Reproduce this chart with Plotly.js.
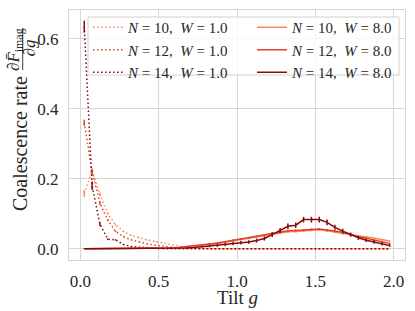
<!DOCTYPE html>
<html>
<head>
<meta charset="utf-8">
<script src="https://cdn.plot.ly/plotly-3.0.1.min.js"></script>
<style>html,body{margin:0;padding:0;background:#fff;}#chart{width:415px;height:311px;}</style>
</head>
<body>
<div id="chart"></div>
<script>
// Tilt values g
const tilt = [0.025,0.075,0.125,0.175,0.225,0.275,0.325,0.375,0.425,0.475,
              0.525,0.575,0.625,0.675,0.725,0.775,0.825,0.875,0.925,0.975,
              1.025,1.075,1.125,1.175,1.225,1.275,1.325,1.375,1.425,1.475,
              1.525,1.575,1.625,1.675,1.725,1.775,1.825,1.875,1.925,1.975];

// W = 1.0 series
const n10w1 = [0.158,0.222,0.155,0.100,0.068,0.049,0.038,0.031,0.025,0.021,
               0.016,0.011,0.006,0.003,0.001,0,0,0,0,0,
               0,0,0,0,0,0,0,0,0,0, 0,0,0,0,0,0,0,0,0,0];
const n12w1 = [0.360,0.220,0.130,0.082,0.049,0.034,0.025,0.019,0.014,0.010,
               0.007,0.004,0.002,0.001,0,0,0,0,0,0,
               0,0,0,0,0,0,0,0,0,0, 0,0,0,0,0,0,0,0,0,0];
const n14w1 = [0.635,0.180,0.070,0.027,0.025,0.012,0.006,0.004,0.002,0.001,
               0,0,0,0,0,0,0,0,0,0,
               0,0,0,0,0,0,0,0,0,0, 0,0,0,0,0,0,0,0,0,0];
const n10w1Err = [0.010,0.008,0.005,0.003,0.002,0.002,0.001,0.001,0.001,0.001,
                  0.001,0,0,0,0,0,0,0,0,0, 0,0,0,0,0,0,0,0,0,0, 0,0,0,0,0,0,0,0,0,0];
const n12w1Err = [0.009,0.008,0.005,0.003,0.002,0.001,0.001,0.001,0.001,0,
                  0,0,0,0,0,0,0,0,0,0, 0,0,0,0,0,0,0,0,0,0, 0,0,0,0,0,0,0,0,0,0];
const n14w1Err = [0.017,0.012,0.005,0.002,0.002,0.001,0.001,0,0,0,
                  0,0,0,0,0,0,0,0,0,0, 0,0,0,0,0,0,0,0,0,0, 0,0,0,0,0,0,0,0,0,0];

// W = 8.0 series
const n10w8 = [0,0,0,0,0,0,0,0,0,0,
               0.001,0.002,0.003,0.005,0.007,0.009,0.012,0.015,0.018,0.022,
               0.025,0.029,0.033,0.037,0.041,0.045,0.048,0.049,0.051,0.053,
               0.054,0.051,0.047,0.043,0.038,0.036,0.034,0.030,0.026,0.022];
const n12w8 = [0,0,0,0,0,0,0,0,0,0,
               0.001,0.002,0.003,0.005,0.007,0.010,0.013,0.016,0.020,0.024,
               0.027,0.031,0.035,0.039,0.044,0.048,0.051,0.052,0.053,0.055,
               0.056,0.053,0.050,0.047,0.041,0.034,0.030,0.025,0.020,0.015];
const n14w8 = [0,0,0,0,0,0,0,0,0,0,
               0,0,0.001,0.002,0.003,0.005,0.007,0.009,0.012,0.015,
               0.017,0.019,0.023,0.029,0.040,0.052,0.064,0.067,0.083,0.083,
               0.083,0.075,0.061,0.050,0.040,0.031,0.024,0.019,0.014,0.009];
const n10w8Err = [0,0,0,0,0,0,0,0,0,0,
                  0.001,0.001,0.001,0.001,0.001,0.001,0.002,0.002,0.002,0.002,
                  0.002,0.002,0.002,0.002,0.002,0.002,0.003,0.003,0.003,0.003,
                  0.003,0.003,0.003,0.003,0.002,0.002,0.002,0.002,0.002,0.002];
const n12w8Err = [0,0,0,0,0,0,0,0,0,0,
                  0.001,0.001,0.001,0.001,0.001,0.001,0.002,0.002,0.002,0.002,
                  0.002,0.002,0.002,0.002,0.002,0.003,0.003,0.003,0.003,0.003,
                  0.003,0.003,0.003,0.003,0.003,0.002,0.002,0.002,0.002,0.002];
const n14w8Err = [0.001,0.001,0.001,0.001,0.001,0.001,0.001,0.001,0.001,0.001,
                  0.001,0.001,0.001,0.001,0.001,0.002,0.003,0.004,0.005,0.005,
                  0.005,0.005,0.006,0.006,0.007,0.007,0.008,0.008,0.008,0.008,
                  0.008,0.008,0.007,0.007,0.006,0.006,0.005,0.005,0.005,0.004];

const legendNames = ['<i>N</i> = 10,  <i>W</i> = 1.0','<i>N</i> = 12,  <i>W</i> = 1.0','<i>N</i> = 14,  <i>W</i> = 1.0',
                     '<i>N</i> = 10,  <i>W</i> = 8.0','<i>N</i> = 12,  <i>W</i> = 8.0','<i>N</i> = 14,  <i>W</i> = 8.0'];
const xTicks = [0,0.5,1.0,1.5,2.0];
const yTicks = [0,0.2,0.4,0.6];

const colors = ['#fb8b5e','#e2402d','#850c0c'];
const serif = 'Liberation Serif, Times New Roman, serif';
const textCol = '#262626';

function tr(y, err, name, color, dotted, leg) {
  return {
    x: tilt, y: y, name: name, type: 'scatter', mode: 'lines',
    line: {color: color, width: 1.5, dash: dotted ? '1.5px,2.5px' : 'solid'},
    error_y: {type: 'data', array: err, visible: true, color: color, thickness: 1.5, width: 0},
    legend: leg
  };
}

const data = [
  tr(n10w1, n10w1Err, legendNames[0], colors[0], true, 'legend'),
  tr(n12w1, n12w1Err, legendNames[1], colors[1], true, 'legend'),
  tr(n14w1, n14w1Err, legendNames[2], colors[2], true, 'legend'),
  tr(n10w8, n10w8Err, legendNames[3], colors[0], false, 'legend2'),
  tr(n12w8, n12w8Err, legendNames[4], colors[1], false, 'legend2'),
  tr(n14w8, n14w8Err, legendNames[5], colors[2], false, 'legend2')
];

function px(x){ return (x-69)/336; }
function py(y){ return (260-y)/250; }

const legFont = {family: serif, size: 15, color: textCol};
const layout = {
  width: 415, height: 311,
  margin: {l: 69, r: 10, t: 10, b: 51, pad: 0},
  paper_bgcolor: '#ffffff', plot_bgcolor: '#ffffff',
  font: {family: serif, color: textCol, size: 17},
  showlegend: true,
  legend: {
    orientation: 'v', x: px(88), y: py(11), xanchor: 'left', yanchor: 'top',
    bgcolor: 'rgba(255,255,255,0.01)', borderwidth: 0,
    font: legFont, tracegroupgap: 0
  },
  legend2: {
    orientation: 'v', x: px(252), y: py(11), xanchor: 'left', yanchor: 'top',
    bgcolor: 'rgba(255,255,255,0.01)', borderwidth: 0,
    font: legFont, tracegroupgap: 0
  },
  xaxis: {
    range: [-0.0725, 2.0725], tickvals: xTicks, tickformat: '.1f',
    showgrid: true, gridcolor: '#d6d6d6', gridwidth: 1,
    showline: true, mirror: true, linecolor: '#d6d6d6', linewidth: 1.2,
    zeroline: false, ticks: '', ticklabelstandoff: 5,
    tickfont: {family: serif, size: 17, color: textCol}
  },
  yaxis: {
    range: [-0.0325, 0.6825], tickvals: yTicks, tickformat: '.1f',
    showgrid: true, gridcolor: '#d6d6d6', gridwidth: 1,
    showline: true, mirror: true, linecolor: '#d6d6d6', linewidth: 1.2,
    zeroline: false, ticks: '', ticklabelstandoff: 6,
    tickfont: {family: serif, size: 17, color: textCol}
  },
  annotations: [
    {text: 'Tilt <i>g</i>', xref: 'paper', yref: 'paper', x: px(237), y: py(297),
     xanchor: 'center', yanchor: 'middle', showarrow: false,
     font: {family: serif, size: 19, color: textCol}},
    {text: 'Coalescence rate', xref: 'paper', yref: 'paper', x: px(20), y: py(144),
     xanchor: 'center', yanchor: 'middle', textangle: -90, showarrow: false,
     font: {family: serif, size: 20, color: textCol}},
    {text: '∂<i>F̄</i><sub>imag</sub>', xref: 'paper', yref: 'paper', x: px(15), y: py(49),
     xanchor: 'center', yanchor: 'middle', textangle: -90, showarrow: false,
     font: {family: serif, size: 17, color: textCol}},
    {text: '∂<i>g</i>', xref: 'paper', yref: 'paper', x: px(29), y: py(48.5),
     xanchor: 'center', yanchor: 'middle', textangle: -90, showarrow: false,
     font: {family: serif, size: 17, color: textCol}}
  ],
  shapes: [
    {type: 'line', xref: 'paper', yref: 'paper', x0: px(22.7), x1: px(22.7), y0: py(28), y1: py(70),
     line: {color: textCol, width: 0.9}},
    {type: 'rect', xref: 'paper', yref: 'paper', layer: 'above',
     x0: px(88), x1: px(399), y0: py(17), y1: py(75),
     fillcolor: 'rgba(255,255,255,0.8)', line: {color: '#d0d0d0', width: 1}}
  ]
};

Plotly.newPlot('chart', data, layout, {displayModeBar: false, staticPlot: true});
</script>
</body>
</html>
